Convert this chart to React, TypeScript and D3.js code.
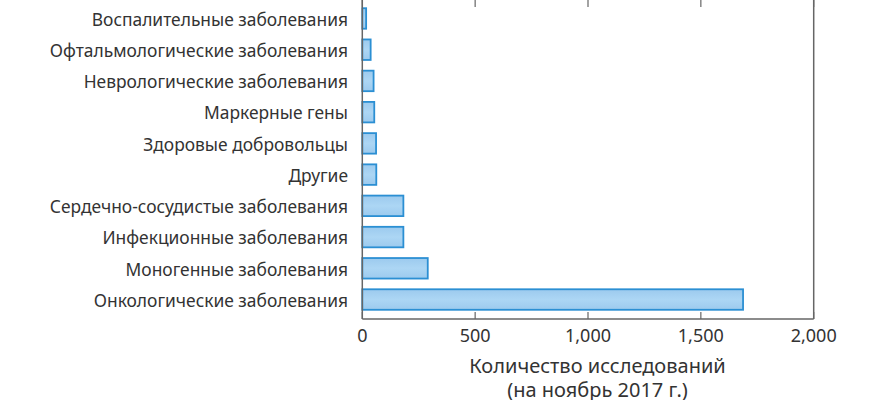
import React from "react";
import * as d3 from "d3";

const categories = [
  "Воспалительные заболевания",
  "Офтальмологические заболевания",
  "Неврологические заболевания",
  "Маркерные гены",
  "Здоровые добровольцы",
  "Другие",
  "Сердечно-сосудистые заболевания",
  "Инфекционные заболевания",
  "Моногенные заболевания",
  "Онкологические заболевания",
];
const values = [17, 37, 50, 53, 61, 62, 182, 182, 290, 1687];
const xTicks = [0, 500, 1000, 1500, 2000];
const titleLines = ["Количество исследований", "(на ноябрь 2017 г.)"];

const W = 870;
const H = 400;
const left = 362.3;
const right = 813.7;
const top = -1;
const bottom = 319;
const FONT = "'Noto Sans', sans-serif";
const TEXT = "#333";
const AXIS = "#666";

export default function App() {
  const x = d3.scaleLinear().domain([0, 2000]).range([left, right]);
  const y = d3
    .scaleBand<string>()
    .domain(categories)
    .range([-2.5, 320.5])
    .padding(0.343);
  const fmt = d3.format(",");
  return (
    <div style={{ position: "absolute", left: 0, top: 0 }}>
      <svg width={W} height={H} style={{ display: "block" }}>
        <defs>
          <linearGradient id="barGrad" x1="0" y1="0" x2="0" y2="1">
            <stop offset="0" stopColor="#9ccaee" />
            <stop offset="0.5" stopColor="#acd6f4" />
            <stop offset="1" stopColor="#9ccaee" />
          </linearGradient>
        </defs>
        <rect x={0} y={0} width={W} height={H} fill="#fff" />
        {categories.map((c, i) => (
          <g key={c}>
            <rect
              x={x(0)}
              y={y(c)!}
              width={x(values[i]) - x(0)}
              height={y.bandwidth()}
              fill="url(#barGrad)"
              stroke="#2b8fd3"
              strokeWidth={1.8}
            />
            <text
              x={348}
              y={y(c)! + y.bandwidth() / 2}
              dy="0.42em"
              textAnchor="end"
              fontFamily={FONT}
              fontSize={17.4}
              fill={TEXT}
            >
              {c}
            </text>
          </g>
        ))}
        <line x1={left} x2={left} y1={top} y2={bottom} stroke={AXIS} strokeWidth={1.5} />
        <line x1={right} x2={right} y1={top} y2={bottom} stroke={AXIS} strokeWidth={1.5} />
        <line x1={left} x2={right} y1={bottom} y2={bottom} stroke={AXIS} strokeWidth={1.5} />
        <line x1={left} x2={right} y1={top} y2={top} stroke={AXIS} strokeWidth={1.5} />
        {xTicks.map((t) => (
          <g key={t}>
            <line x1={x(t)} x2={x(t)} y1={bottom} y2={bottom - 7} stroke={AXIS} strokeWidth={1.2} />
            <line x1={x(t)} x2={x(t)} y1={top} y2={top + 8} stroke={AXIS} strokeWidth={1.2} />
            <text
              x={x(t)}
              y={342}
              textAnchor="middle"
              fontFamily={FONT}
              fontSize={18}
              fill={TEXT}
            >
              {fmt(t)}
            </text>
          </g>
        ))}
        {titleLines.map((l, i) => (
          <text
            key={l}
            x={597.5}
            y={373 + i * 24}
            textAnchor="middle"
            fontFamily={FONT}
            fontSize={20}
            fill={TEXT}
          >
            {l}
          </text>
        ))}
      </svg>
    </div>
  );
}
